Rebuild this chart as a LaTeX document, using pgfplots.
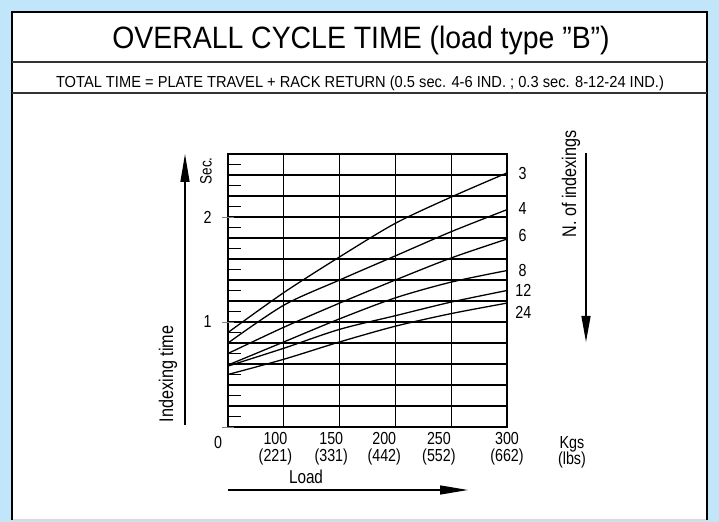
\documentclass[border=0pt]{standalone}
\usepackage{pgfplots}
\pgfplotsset{compat=1.18}
\usepackage{fontspec}
\setmainfont[FakeStretch=0.82]{Liberation Sans}
\newfontfamily\titlefont[FakeStretch=0.92]{Liberation Sans}
\usetikzlibrary{arrows.meta}
\definecolor{bgblue}{RGB}{194,230,249}
\begin{document}
\begin{tikzpicture}[x=1bp,y=1bp]
% frame
\fill[bgblue] (0,0) rectangle (719,522);
\fill[white] (12,2) rectangle (707,510);
\draw[black!15, line width=1.5bp] (12,2) -- (707,2);
\draw[black, line width=2bp] (12,2) -- (12,510) -- (707,510) -- (707,2);
\draw[black!80, line width=1.5bp] (12,460) -- (707,460);
\draw[black!80, line width=1.5bp] (12,429) -- (707,429);
% title
\node[anchor=base] at (361,473) {\titlefont\fontsize{31}{31}\selectfont OVERALL CYCLE TIME (load type ”B”)};
\node[anchor=base] at (360,434.5) {\titlefont\fontsize{16}{16}\selectfont TOTAL TIME = PLATE TRAVEL + RACK RETURN (0.5 sec. 4-6 IND. ; 0.3 sec. 8-12-24 IND.)};
\begin{axis}[
  at={(228bp,95bp)}, anchor=origin,
  x=55.8bp, y=105bp,
  xmin=0, xmax=5, ymin=0, ymax=2.6,
  clip=false,
  axis line style={line width=2.2bp},
  xtick={0,1,2,3,4,5}, xticklabels={},
  ytick={0,0.2,0.4,0.6,0.8,1.0,1.2,1.4,1.6,1.8,2.0,2.2,2.4,2.6}, yticklabels={},
  major tick length=0pt,
  grid=major,
  major grid style={black, line width=1.3bp},
  minor ytick={0.1,0.3,0.5,0.7,0.9,1.1,1.3,1.5,1.7,1.9,2.1,2.3,2.5},
  minor tick length=13bp,
  minor tick style={line width=1.6bp, black},
  tick align=inside,
  ytick pos=left, xtick pos=bottom,
  extra y ticks={0,1,2},
  extra y tick labels={,1,2},
  extra y tick style={grid=none, tick align=center, major tick length=12bp},
  extra x ticks={0.85,1.85,2.8,3.78,5.0},
  extra x tick labels={{100\\(221)},{150\\(331)},{200\\(442)},{250\\(552)},{300\\(662)}},
  extra x tick style={grid=none, major tick length=0pt},
  xticklabel style={align=center, font={\fontsize{17.5}{16.5}\selectfont}, yshift=-2bp},
  yticklabel style={font={\fontsize{17.5}{17}\selectfont}, xshift=-7bp},
]
\addplot[smooth, black, line width=1.3bp] coordinates {(0,0.90) (1,1.28) (2,1.62) (3,1.94) (4,2.19) (5,2.42)};
\addplot[smooth, black, line width=1.3bp] coordinates {(0,0.80) (1,1.16) (2,1.40) (3,1.63) (4,1.86) (5,2.07)};
\addplot[smooth, black, line width=1.3bp] coordinates {(0,0.70) (1,0.95) (2,1.18) (3,1.40) (4,1.61) (5,1.79)};
\addplot[smooth, black, line width=1.3bp] coordinates {(0,0.59) (1,0.81) (2,1.03) (3,1.23) (4,1.38) (5,1.49)};
\addplot[smooth, black, line width=1.3bp] coordinates {(0,0.58) (1,0.75) (2,0.93) (3,1.06) (4,1.19) (5,1.30)};
\addplot[smooth, black, line width=1.3bp] coordinates {(0,0.50) (1,0.645) (2,0.81) (3,0.96) (4,1.08) (5,1.18)};
\end{axis}
% curve labels
\node[font=\fontsize{17.5}{17}\selectfont] at (522.7,348.7) {3};
\node[font=\fontsize{17.5}{17}\selectfont] at (522.7,313.7) {4};
\node[font=\fontsize{17.5}{17}\selectfont] at (522.7,286) {6};
\node[font=\fontsize{17.5}{17}\selectfont] at (522.7,251.3) {8};
\node[font=\fontsize{17.5}{17}\selectfont] at (523.3,232) {12};
\node[font=\fontsize{17.5}{17}\selectfont] at (523.3,209.7) {24};
% axis texts
\node[font=\fontsize{17.5}{17}\selectfont] at (218,79) {0};
\node[font=\fontsize{17.5}{16.5}\selectfont, align=center, anchor=north] at (572,89) {Kgs\\(lbs)};
\node[font=\fontsize{16.5}{16}\selectfont, rotate=90] at (206,351) {Sec.};
\node[font=\fontsize{19.8}{19}\selectfont, rotate=90] at (168,148) {Indexing time};
\node[font=\fontsize{19.8}{19}\selectfont, rotate=90] at (571,338) {N. of indexings};
\node[font=\fontsize{18.7}{18}\selectfont] at (306,45.5) {Load};
% arrows
\draw[line width=1.3bp, -{Triangle[length=28bp,width=9bp]}] (185,97) -- (185,368);
\draw[line width=1.3bp, -{Triangle[length=28bp,width=9bp]}] (228,32) -- (468,32);
\draw[line width=1.3bp, -{Triangle[length=26bp,width=9bp]}] (586,369) -- (586,180);
\end{tikzpicture}
\end{document}
